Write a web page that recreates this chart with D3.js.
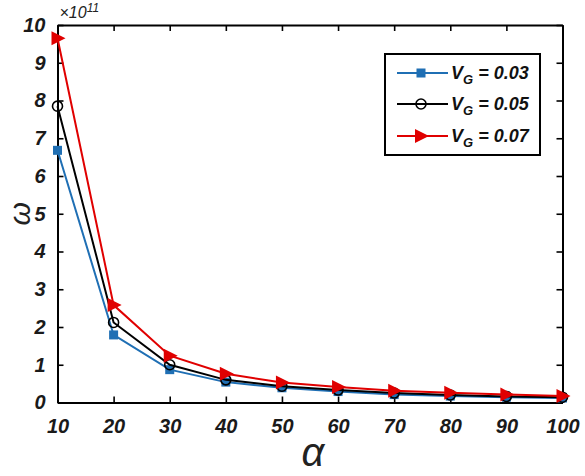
<!DOCTYPE html>
<html>
<head>
<meta charset="utf-8">
<script src="https://cdn.jsdelivr.net/npm/d3@7"></script>
<style>
body{margin:0;background:#fff;}
text{font-family:Arial,"Liberation Sans",sans-serif;}
</style>
</head>
<body>
<div class="canvas"></div>
<script>
// data (omega in units of 1e11)
const alphas = [10,20,30,40,50,60,70,80,90,100];
const vg003 = [6.68,1.79,0.87,0.54,0.39,0.29,0.21,0.17,0.14,0.12];
const vg005 = [7.85,2.12,1.00,0.60,0.43,0.33,0.25,0.20,0.16,0.14];
const vg007 = [9.65,2.58,1.24,0.76,0.53,0.41,0.31,0.26,0.21,0.17];
const seriesNames = ['V_G = 0.03','V_G = 0.05','V_G = 0.07'];
const xTicks = [10,20,30,40,50,60,70,80,90,100];
const yTicks = [0,1,2,3,4,5,6,7,8,9,10];

const dim = {width:585,height:476};
const box = {left:57.5,right:562.5,top:25,bottom:402.5};

const svg = d3.select('.canvas')
    .append('svg')
    .attr('width',dim.width)
    .attr('height',dim.height);

const x = d3.scaleLinear().domain([10,100]).range([box.left,box.right]);
const y = d3.scaleLinear().domain([0,10]).range([box.bottom,box.top]);

const series = [
    {name:seriesNames[0], values:vg003, colour:'#1f6fb4', marker:'square'},
    {name:seriesNames[1], values:vg005, colour:'#000000', marker:'circle'},
    {name:seriesNames[2], values:vg007, colour:'#e00000', marker:'triangle'}
];

// axes frame
const tickLen = 6;
const xAxis = svg.append('g')
    .attr('transform',`translate(0,${box.bottom})`)
    .call(d3.axisBottom(x).tickValues(xTicks).tickSizeInner(-tickLen).tickSizeOuter(0).tickPadding(14));
const xTop = svg.append('g')
    .attr('transform',`translate(0,${box.top})`)
    .call(d3.axisTop(x).tickValues(xTicks).tickSizeInner(-tickLen).tickSizeOuter(0).tickFormat(''));
const yAxis = svg.append('g')
    .attr('transform',`translate(${box.left},0)`)
    .call(d3.axisLeft(y).tickValues(yTicks).tickSizeInner(-tickLen).tickSizeOuter(0).tickPadding(10));
const yRight = svg.append('g')
    .attr('transform',`translate(${box.right},0)`)
    .call(d3.axisRight(y).tickValues(yTicks).tickSizeInner(-tickLen).tickSizeOuter(0).tickFormat(''));

[xAxis,xTop,yAxis,yRight].forEach(a=>{
    a.select('.domain').attr('stroke','#000').attr('stroke-width',2);
    a.selectAll('.tick line').attr('stroke','#000').attr('stroke-width',1.6);
    a.selectAll('text')
        .attr('fill','#1a1a1a')
        .attr('font-size',20)
        .attr('font-weight','bold')
        .attr('font-style','italic');
});
xAxis.selectAll('text').attr('dy','0.8em');
yAxis.selectAll('text').attr('dx','-2');

// exponent
const expo = svg.append('text')
    .attr('x',box.left+2)
    .attr('y',box.top-7)
    .attr('font-size',16)
    .attr('font-style','italic')
    .attr('fill','#222');
expo.append('tspan').text('\u00d710');
expo.append('tspan').attr('font-size',12).attr('dy',-6).text('11');

// axis labels
svg.append('text')
    .attr('transform',`translate(30,${(box.top+box.bottom)/2}) rotate(-90)`)
    .attr('text-anchor','middle')
    .attr('font-family','"DejaVu Serif","Liberation Serif",serif')
    .attr('font-style','italic')
    .attr('font-size',30)
    .attr('fill','#222')
    .text('\u03c9');
svg.append('text')
    .attr('x',313)
    .attr('y',466)
    .attr('text-anchor','middle')
    .attr('font-family','"Liberation Serif","DejaVu Serif",serif')
    .attr('font-style','italic')
    .attr('font-size',40)
    .attr('fill','#222')
    .text('\u03b1');

const line = d3.line().x((d,i)=>x(alphas[i])).y(d=>y(d));

const drawMarker = (g,type,colour,cx,cy)=>{
    if(type==='square'){
        g.append('rect').attr('x',cx-4.5).attr('y',cy-4.5).attr('width',9).attr('height',9)
            .attr('fill',colour);
    } else if(type==='circle'){
        g.append('circle').attr('cx',cx).attr('cy',cy).attr('r',5)
            .attr('fill','none').attr('stroke',colour).attr('stroke-width',1.6);
    } else {
        g.append('path')
            .attr('d',`M${cx-6},${cy-7}L${cx+8},${cy}L${cx-6},${cy+7}Z`)
            .attr('fill',colour);
    }
};

const graph = svg.append('g');
series.forEach(s=>{
    graph.append('path')
        .attr('d',line(s.values))
        .attr('fill','none')
        .attr('stroke',s.colour)
        .attr('stroke-width',2);
    const mg = graph.append('g');
    s.values.forEach((v,i)=>drawMarker(mg,s.marker,s.colour,x(alphas[i]),y(v)));
});

// legend
const legend = svg.append('g');
legend.append('rect')
    .attr('x',385).attr('y',54).attr('width',155).attr('height',101)
    .attr('fill','#fff').attr('stroke','#000').attr('stroke-width',2);
const rowY = [73,104,136];
series.forEach((s,i)=>{
    legend.append('line')
        .attr('x1',397).attr('x2',448).attr('y1',rowY[i]).attr('y2',rowY[i])
        .attr('stroke',s.colour).attr('stroke-width',2);
    drawMarker(legend,s.marker,s.colour,421,rowY[i]);
    const parts = s.name.split(' = ');
    const t = legend.append('text')
        .attr('x',451).attr('y',rowY[i]+6)
        .attr('font-size',18).attr('font-weight','bold').attr('font-style','italic')
        .attr('fill','#111');
    t.append('tspan').text('V');
    t.append('tspan').attr('font-size',13).attr('dy',5).text('G');
    t.append('tspan').attr('dy',-5).text(' = '+parts[1]);
});
</script>
</body>
</html>
